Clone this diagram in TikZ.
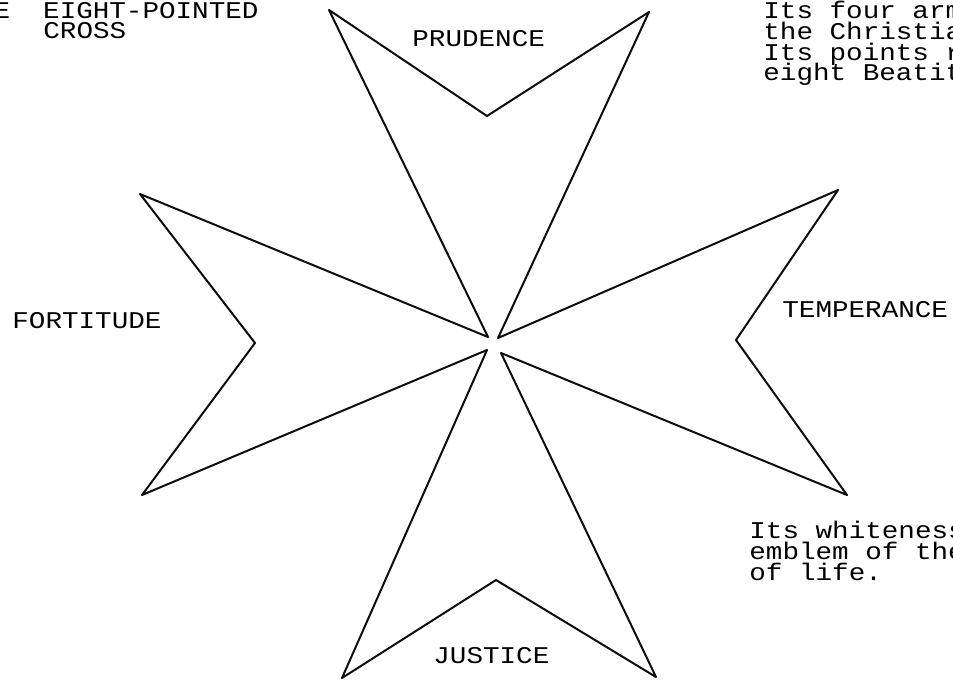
\documentclass[tikz,border=0pt]{standalone}
\usepackage{fontspec}
\setmonofont[FakeStretch=1.15]{Liberation Mono}
\begin{document}
\begin{tikzpicture}[x=0.5pt, y=-0.5pt]

  % ---- looks ----
  \definecolor{CRLine}{gray}{0.05}
  \tikzset{
    crossline/.style={CRLine, line width=1pt, line join=round},
    typed/.style={anchor=base west, inner sep=0pt,
      font=\ttfamily\fontsize{12}{10.35}\selectfont}
  }

  % ---- frame ----
  \useasboundingbox (0,0) rectangle (953,681);
  \clip (0,0) rectangle (953,681);

  % ---- cross points ----
  \coordinate (topL)  at (329,10);
  \coordinate (topN)  at (487,116);
  \coordinate (topR)  at (649,12);
  \coordinate (ctrTR) at (498,338);
  \coordinate (rgtT)  at (838,190);
  \coordinate (rgtN)  at (736,340);
  \coordinate (rgtB)  at (847,495);
  \coordinate (ctrBR) at (501,353);
  \coordinate (botR)  at (656,677);
  \coordinate (botN)  at (496,580);
  \coordinate (botL)  at (342,678);
  \coordinate (ctrBL) at (487,350);
  \coordinate (lftB)  at (142,495);
  \coordinate (lftN)  at (255,343);
  \coordinate (lftT)  at (140,194);
  \coordinate (ctrTL) at (488,337);

  % ---- outline ----
  \draw[crossline] (topL) -- (topN) -- (topR) -- (ctrTR)
    -- (rgtT) -- (rgtN) -- (rgtB) -- (ctrBR)
    -- (botR) -- (botN) -- (botL) -- (ctrBL)
    -- (lftB) -- (lftN) -- (lftT) -- (ctrTL) -- cycle;

  % ---- arm labels ----
  \node[typed] (prudence)   at (412,46)  {PRUDENCE};
  \node[typed] (fortitude)  at (12,328)  {FORTITUDE};
  \node[typed] (temperance) at (782,317) {TEMPERANCE};
  \node[typed] (justice)    at (433,663) {JUSTICE};

  % ---- title ----
  \node[typed] (title1) at (-40,18) {THE\ \ EIGHT-POINTED};
  \node[typed] (title2) at (43,38)  {CROSS};

  % ---- notes ----
  \node[typed] (armsA) at (763,18) {Its four arm};
  \node[typed] (armsB) at (763,39) {the Christia};
  \node[typed] (armsC) at (763,60) {Its points r};
  \node[typed] (armsD) at (763,80) {eight Beatit};

  \node[typed] (whiteA) at (749,538) {Its whiteness};
  \node[typed] (whiteB) at (749,559) {emblem of the};
  \node[typed] (whiteC) at (749,580) {of life.};

\end{tikzpicture}
\end{document}
